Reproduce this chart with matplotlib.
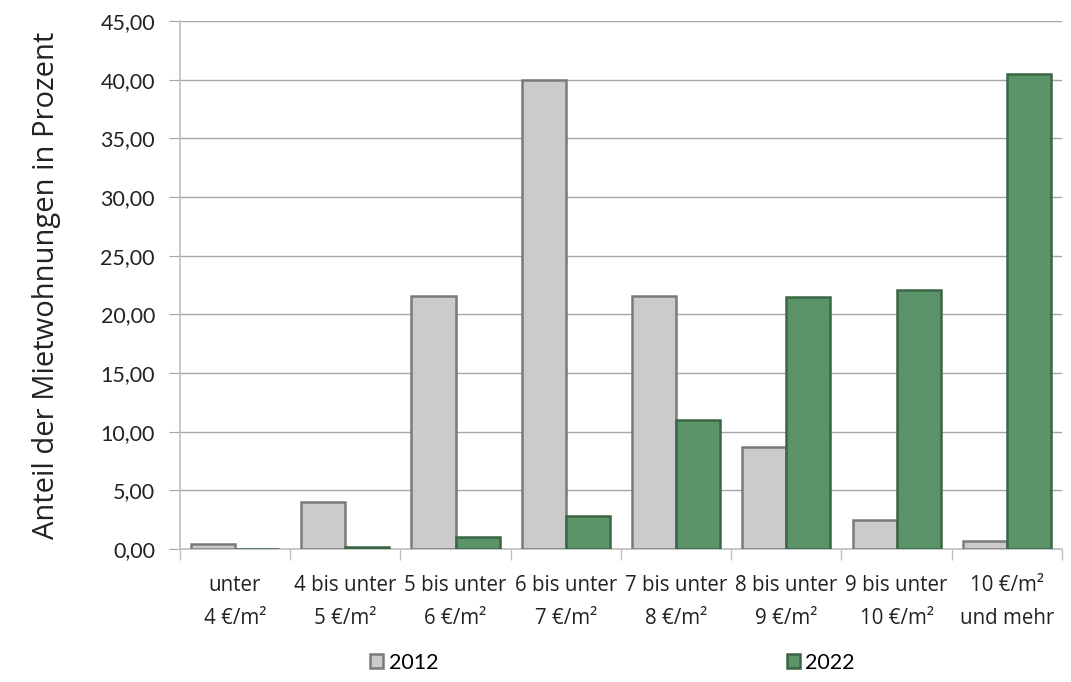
import matplotlib.pyplot as plt
import numpy as np
from matplotlib.ticker import FuncFormatter, FixedLocator

plt.rcParams['font.family'] = ['Lato', 'DejaVu Sans']

categories = ["unter\n4 €/m²", "4 bis unter\n5 €/m²", "5 bis unter\n6 €/m²",
              "6 bis unter\n7 €/m²", "7 bis unter\n8 €/m²", "8 bis unter\n9 €/m²",
              "9 bis unter\n10 €/m²", "10 €/m²\nund mehr"]
werte_2012 = [0.4, 4.0, 21.6, 40.0, 21.6, 8.7, 2.5, 0.65]
werte_2022 = [0.0, 0.2, 1.0, 2.85, 11.0, 21.5, 22.1, 40.5]
jahre = ["2012", "2022"]

fig = plt.figure(figsize=(10.71, 6.82), dpi=100)
ax = fig.add_axes([0.168, 0.195, 0.8236, 0.774])

x = np.arange(len(categories))
w = 0.4

# Balken mit dunklem Rand (angedeuteter Fasen-Effekt)
ax.bar(x - w / 2, werte_2012, w, color='#cbcbcb', edgecolor='#7a7a7a',
       linewidth=1.8, label=jahre[0], zorder=3)
ax.bar(x + w / 2, werte_2022, w, color='#5b9468', edgecolor='#3b6645',
       linewidth=1.8, label=jahre[1], zorder=3)

ax.set_xlim(-0.5, len(categories) - 0.5)
ax.set_ylim(0, 45)
ax.set_yticks(np.arange(0, 46, 5))
ax.yaxis.set_major_formatter(FuncFormatter(lambda v, p: f"{v:.2f}".replace('.', ',')))
ax.grid(axis='y', color='#a6a6a6', linewidth=1.0, zorder=0)

ax.set_xticks(x)
ax.set_xticklabels(categories, linespacing=1.7, family=['Open Sans', 'DejaVu Sans'])
ax.xaxis.set_minor_locator(FixedLocator(np.arange(-0.5, len(categories), 1.0)))
ax.tick_params(axis='x', which='major', length=0, pad=19, labelsize=14.8, colors='#222222')
ax.tick_params(axis='x', which='minor', length=8, color='#bfbfbf', width=1)
ax.tick_params(axis='y', length=8, color='#a6a6a6', pad=10, labelsize=15.5, labelcolor='#222222')

for s in ['top', 'right']:
    ax.spines[s].set_visible(False)
for s in ['left', 'bottom']:
    ax.spines[s].set_color('#bfbfbf')
    ax.spines[s].set_linewidth(1.2)

ax.set_ylabel("Anteil der Mietwohnungen in Prozent", family=['Open Sans', 'DejaVu Sans'],
              fontsize=21, color='#222222', labelpad=28)

fig.legend(loc='center', bbox_to_anchor=(0.572, 0.028), ncol=2, frameon=False,
           fontsize=15.5, handlelength=0.6, handleheight=0.6, handletextpad=0.25,
           columnspacing=16.2)

fig.savefig("out.png", dpi=100)
